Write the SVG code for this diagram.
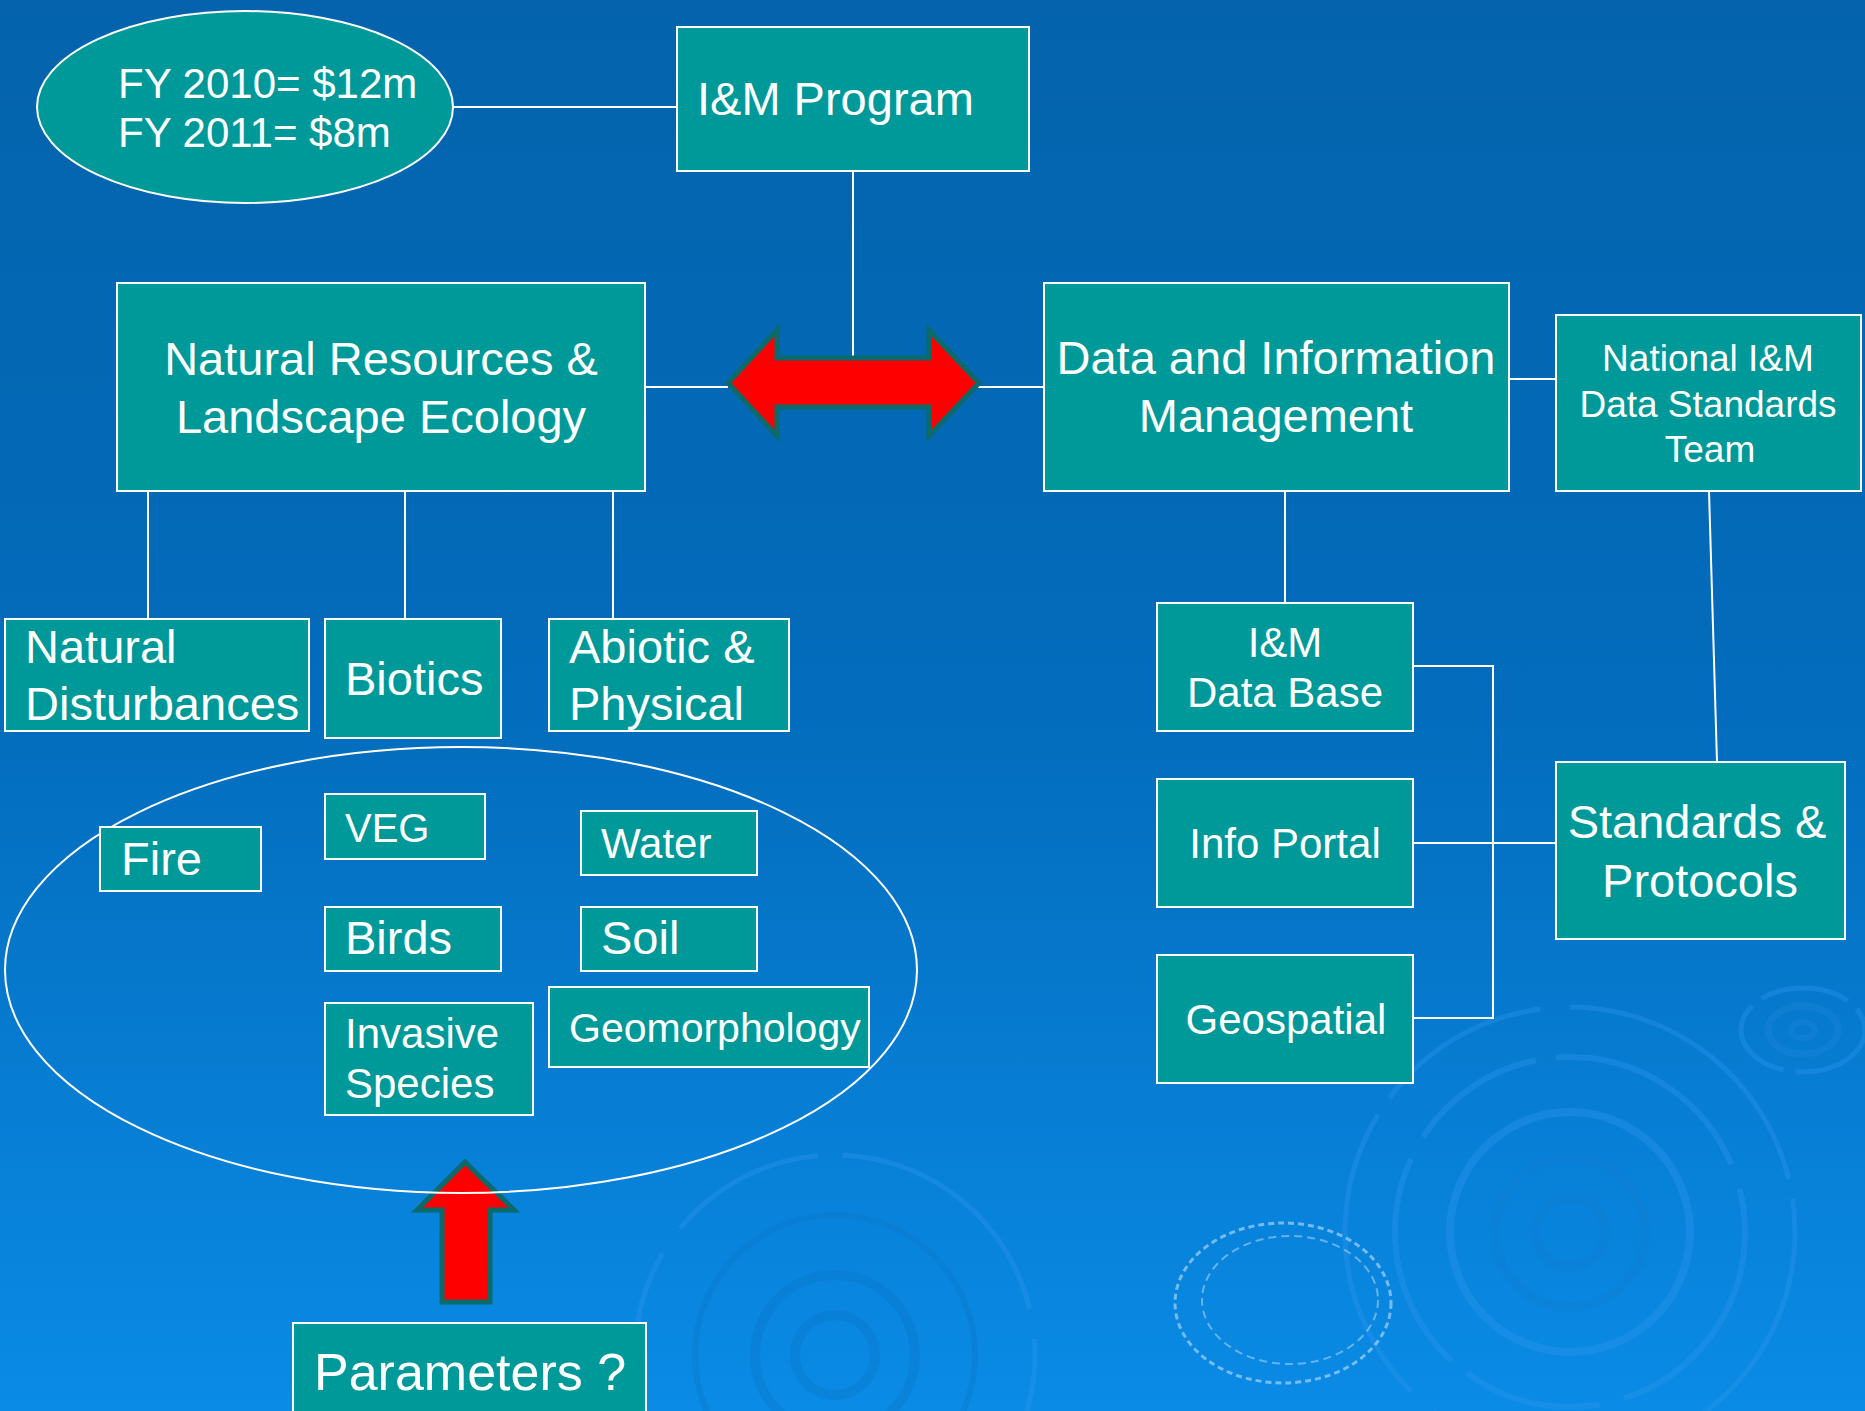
<svg xmlns="http://www.w3.org/2000/svg" width="1865" height="1411" viewBox="0 0 1865 1411">
<defs>
<linearGradient id="bg" x1="0" y1="0" x2="0" y2="1">
<stop offset="0" stop-color="#0463AC"/>
<stop offset="0.5" stop-color="#036CBC"/>
<stop offset="1" stop-color="#0A8BE6"/>
</linearGradient>
<style>
.box{fill:#009999;stroke:#ffffff;stroke-width:2}
.ln{stroke:#ffffff;stroke-width:2;fill:none}
.t{font-family:"Liberation Sans",Arial,sans-serif;fill:#ffffff}
.c{text-anchor:middle}
.arr{fill:#ff0000;stroke:#0B6B6B;stroke-width:5;stroke-linejoin:miter}
.rip{fill:none;stroke:#2B95EE;opacity:0.4}
</style>
</defs>
<rect x="0" y="0" width="1865" height="1411" fill="url(#bg)"/>
<g id="ripples">
<g class="rip">
<circle cx="1570" cy="1232" r="225" stroke-width="5" stroke-dasharray="300 20 180 30"/>
<circle cx="1570" cy="1232" r="175" stroke-width="6" stroke-dasharray="220 25 140 20"/>
<circle cx="1570" cy="1232" r="120" stroke-width="8"/>
<circle cx="1570" cy="1232" r="75" stroke-width="10" stroke="#0E7FD4"/>
<circle cx="1570" cy="1232" r="35" stroke-width="10" stroke="#0E7FD4"/>
<circle cx="835" cy="1355" r="200" stroke-width="5" stroke-dasharray="260 30 160 25"/>
<circle cx="835" cy="1355" r="140" stroke-width="6" stroke="#0A78CC"/>
<circle cx="835" cy="1355" r="80" stroke-width="10" stroke="#0A78CC"/>
<circle cx="835" cy="1355" r="40" stroke-width="10" stroke="#0A78CC"/>
<ellipse cx="1803" cy="1030" rx="62" ry="42" stroke-width="5" stroke-dasharray="90 12"/>
<ellipse cx="1803" cy="1030" rx="35" ry="24" stroke-width="7" stroke="#1C86DC"/>
<ellipse cx="1803" cy="1030" rx="12" ry="8" stroke-width="6" stroke="#1C86DC"/>
</g>
<ellipse cx="1283" cy="1303" rx="108" ry="80" fill="none" stroke="#BFE0FA" stroke-width="3" stroke-dasharray="6 4" opacity="0.6"/>
<ellipse cx="1290" cy="1300" rx="88" ry="64" fill="none" stroke="#BFE0FA" stroke-width="2" stroke-dasharray="8 5" opacity="0.5"/>
</g>
<g id="connectors">
<line class="ln" x1="453" y1="107" x2="677" y2="107"/>
<line class="ln" x1="853" y1="171" x2="853" y2="356"/>
<line class="ln" x1="645" y1="387" x2="728" y2="387"/>
<line class="ln" x1="978" y1="387" x2="1044" y2="387"/>
<line class="ln" x1="148" y1="491" x2="148" y2="619"/>
<line class="ln" x1="405" y1="491" x2="405" y2="619"/>
<line class="ln" x1="613" y1="491" x2="613" y2="619"/>
<line class="ln" x1="1494" y1="379" x2="1556" y2="379"/>
<line class="ln" x1="1285" y1="491" x2="1285" y2="603"/>
<line class="ln" x1="1709" y1="491" x2="1717" y2="762"/>
<polyline class="ln" points="1413,666 1493,666 1493,1018 1413,1018"/>
<line class="ln" x1="1413" y1="843" x2="1556" y2="843"/>
<polygon class="arr" points="728,383 777,330 777,358 929,358 929,330 979,383 929,436 929,407 777,407 777,436"/>
<polygon class="arr" points="465,1162 514,1210 490,1210 490,1302 442,1302 442,1210 417,1210"/>
</g>
<g id="budget">
<ellipse cx="245" cy="107" rx="208" ry="96" fill="#009999" stroke="#ffffff" stroke-width="2"/>
<text class="t" x="118" y="98" font-size="42">FY 2010= $12m</text>
<text class="t" x="118" y="147" font-size="42">FY 2011= $8m</text>
</g>
<g id="program">
<rect class="box" x="677" y="27" width="352" height="144"/>
<text class="t" x="697" y="115" font-size="47">I&amp;M Program</text>
</g>
<g id="natural-resources">
<rect class="box" x="117" y="283" width="528" height="208"/>
<text class="t c" x="381" y="375" font-size="47">Natural Resources &amp;</text>
<text class="t c" x="381" y="433" font-size="47">Landscape Ecology</text>
</g>
<g id="data-info">
<rect class="box" x="1044" y="283" width="465" height="208"/>
<text class="t c" x="1276" y="374" font-size="47">Data and Information</text>
<text class="t c" x="1276" y="432" font-size="47">Management</text>
</g>
<g id="national-team">
<rect class="box" x="1556" y="315" width="305" height="176"/>
<text class="t c" x="1708" y="371" font-size="37">National I&amp;M</text>
<text class="t c" x="1708" y="417" font-size="37">Data Standards</text>
<text class="t c" x="1710" y="462" font-size="37">Team</text>
</g>
<g id="natural-disturbances">
<rect class="box" x="5" y="619" width="304" height="112"/>
<text class="t" x="25" y="663" font-size="47">Natural</text>
<text class="t" x="25" y="720" font-size="47">Disturbances</text>
</g>
<g id="biotics">
<rect class="box" x="325" y="619" width="176" height="119"/>
<text class="t" x="345" y="695" font-size="47">Biotics</text>
</g>
<g id="abiotic">
<rect class="box" x="549" y="619" width="240" height="112"/>
<text class="t" x="569" y="663" font-size="47">Abiotic &amp;</text>
<text class="t" x="569" y="720" font-size="47">Physical</text>
</g>
<g id="parameter-group">
<ellipse cx="461" cy="970" rx="456" ry="223" fill="none" stroke="#ffffff" stroke-width="2"/>
</g>
<g id="fire">
<rect class="box" x="100" y="827" width="161" height="64"/>
<text class="t" x="121" y="875" font-size="47">Fire</text>
</g>
<g id="veg">
<rect class="box" x="325" y="794" width="160" height="65"/>
<text class="t" x="345" y="842" font-size="40">VEG</text>
</g>
<g id="water">
<rect class="box" x="581" y="811" width="176" height="64"/>
<text class="t" x="601" y="858" font-size="42">Water</text>
</g>
<g id="birds">
<rect class="box" x="325" y="907" width="176" height="64"/>
<text class="t" x="345" y="954" font-size="47">Birds</text>
</g>
<g id="soil">
<rect class="box" x="581" y="907" width="176" height="64"/>
<text class="t" x="601" y="954" font-size="47">Soil</text>
</g>
<g id="invasive">
<rect class="box" x="325" y="1003" width="208" height="112"/>
<text class="t" x="345" y="1048" font-size="42">Invasive</text>
<text class="t" x="345" y="1098" font-size="42">Species</text>
</g>
<g id="geomorphology">
<rect class="box" x="549" y="987" width="320" height="80"/>
<text class="t" x="569" y="1042" font-size="41">Geomorphology</text>
</g>
<g id="database">
<rect class="box" x="1157" y="603" width="256" height="128"/>
<text class="t c" x="1285" y="657" font-size="42">I&amp;M</text>
<text class="t c" x="1285" y="707" font-size="42">Data Base</text>
</g>
<g id="info-portal">
<rect class="box" x="1157" y="779" width="256" height="128"/>
<text class="t c" x="1285" y="858" font-size="42">Info Portal</text>
</g>
<g id="geospatial">
<rect class="box" x="1157" y="955" width="256" height="128"/>
<text class="t c" x="1286" y="1034" font-size="42">Geospatial</text>
</g>
<g id="standards">
<rect class="box" x="1556" y="762" width="289" height="177"/>
<text class="t c" x="1697" y="838" font-size="47">Standards &amp;</text>
<text class="t c" x="1700" y="897" font-size="47">Protocols</text>
</g>
<g id="parameters">
<rect class="box" x="293" y="1323" width="353" height="100"/>
<text class="t" x="314" y="1390" font-size="52">Parameters ?</text>
</g>
</svg>
